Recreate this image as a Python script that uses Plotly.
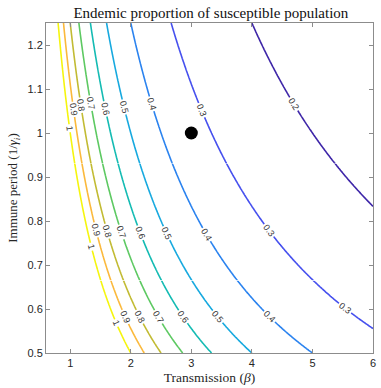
import numpy as np
import plotly.graph_objects as go

# Axes of the evaluated grid (transmission beta, immune period 1/gamma_i)
beta_values = np.round(np.arange(0.6, 6.0001, 0.02), 4).tolist()
period_values = np.round(np.arange(0.5, 1.2501, 0.005), 4).tolist()

# Contour levels shown and their (parula) colours
levels = [0.2, 0.3, 0.4, 0.5, 0.6, 0.7, 0.8, 0.9, 1.0]
level_colors = ["#3e26a8", "#4650ee", "#2b83ef", "#17a9df", "#14bbb3",
                "#5dc962", "#c2bb33", "#fbb93c", "#f5f50e"]

# Highlighted parameter point
point_beta = [3]
point_period = [1]

x_ticks = [1, 2, 3, 4, 5, 6]
y_ticks = [0.5, 0.6, 0.7, 0.8, 0.9, 1.0, 1.1, 1.2]
y_ticklabels = ["0.5", "0.6", "0.7", "0.8", "0.9", "1", "1.1", "1.2"]

# Bands of the immune-period axis, each carrying one row of contour labels
label_bands = [(0.5, 0.665), (0.665, 0.93), (0.93, 1.25)]

# Endemic susceptible proportion S* = gamma / beta = 1 / (beta * period)
B = np.array(beta_values)[None, :]
P_all = np.array(period_values)

fig = go.Figure()
for lo, hi in label_bands:
    mask = (P_all >= lo - 1e-9) & (P_all <= hi + 1e-9)
    P = P_all[mask][:, None]
    S = 1.0 / (B * P)
    for lvl, col in zip(levels, level_colors):
        fig.add_trace(go.Contour(
            x=beta_values, y=P_all[mask].tolist(), z=S,
            autocontour=False,
            contours=dict(start=lvl, end=lvl, size=0.1, coloring="lines",
                          showlabels=True,
                          labelfont=dict(size=9, color="#333333", family="Liberation Sans")),
            colorscale=[[0, col], [1, col]],
            line=dict(width=1.6),
            showscale=False, hoverinfo="skip",
        ))

fig.add_trace(go.Scatter(
    x=point_beta, y=point_period, mode="markers",
    marker=dict(size=13, color="black"), showlegend=False, hoverinfo="skip"))

axis_common = dict(
    showgrid=False, zeroline=False, showline=True, linecolor="#8c8c8c",
    linewidth=1, mirror="ticks", ticks="inside", ticklen=4, tickcolor="#8c8c8c",
    tickfont=dict(family="Liberation Sans", size=11, color="#262626"),
)

fig.update_layout(
    width=381, height=388,
    margin=dict(l=46, r=5, t=23, b=34),
    paper_bgcolor="white", plot_bgcolor="white",
    showlegend=False,
    title=dict(text="Endemic proportion of susceptible population",
               x=0.5535, xanchor="center", y=0.967, yanchor="middle",
               font=dict(family="Liberation Serif", size=15, color="#111111")),
    xaxis=dict(range=[0.6, 6], tickvals=x_ticks,
               title=dict(text="Transmission (<i>β</i>)", standoff=4,
                          font=dict(family="Liberation Serif", size=13.5, color="#262626")),
               **axis_common),
    yaxis=dict(range=[0.5, 1.25], tickvals=y_ticks, ticktext=y_ticklabels,
               title=dict(text="Immune period (1/<i>γ</i><sub><i>i</i></sub>)", standoff=6,
                          font=dict(family="Liberation Serif", size=13, color="#262626")),
               **axis_common),
)

fig.write_html("out.html")
